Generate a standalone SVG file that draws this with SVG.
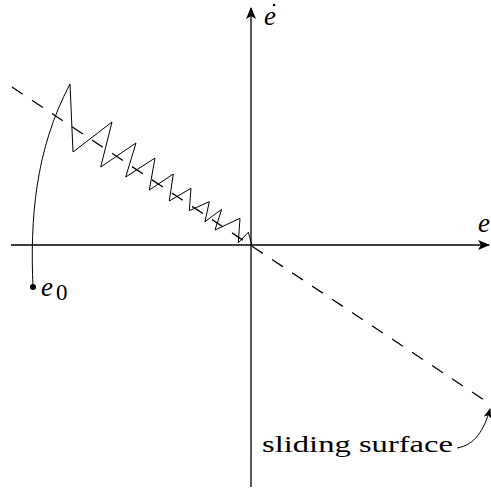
<svg xmlns="http://www.w3.org/2000/svg" width="491" height="489" viewBox="0 0 491 489">
<style>
.ln{fill:none;stroke:#000;stroke-width:1.3}
.th{fill:none;stroke:#000;stroke-width:1}
.lbl{font-family:"Liberation Serif","Times New Roman",Times,serif;font-size:23px;fill:#000}
.it{font-style:italic;font-size:27px}
</style>
<defs>
<marker id="ah" markerWidth="12" markerHeight="10" refX="11" refY="5" orient="auto" markerUnits="userSpaceOnUse">
<path d="M0,0 L12,5 L0,10 L3,5 Z" fill="#000"/>
</marker>
<marker id="ah2" markerWidth="10" markerHeight="8" refX="9" refY="4" orient="auto" markerUnits="userSpaceOnUse">
<path d="M0,0 L10,4 L0,8 L2.5,4 Z" fill="#000"/>
</marker>
</defs>
<rect width="491" height="489" fill="#fff"/>
<g id="connectors">
<line class="ln" x1="11" y1="245" x2="489" y2="245" marker-end="url(#ah)"/>
<line class="ln" x1="251" y1="487" x2="251" y2="8" marker-end="url(#ah)"/>
<line class="ln" x1="12" y1="87" x2="490" y2="404" stroke-dasharray="13,11"/>
<path class="th" d="M33,287 C30,220 35,150 70,84"/>
<polyline class="th" points="70,84 73,152 112,122 100.7,167 136,143 125.7,177 155,158 149.3,190 173.3,174 169.3,201 191,188.3 189.3,210.7 209.3,201.7 205,221.7 221.7,209.3 215,230 240,218.3 238.3,242.7 248.3,232.3 251.7,244"/>
<path class="th" d="M457,448 C475,445 484,430 490,409" marker-end="url(#ah2)"/>
</g>
<g id="e0">
<circle cx="33" cy="287" r="3"/>
<text class="lbl it" x="41" y="296">e</text>
<text class="lbl" x="56" y="300" font-size="17">0</text>
</g>
<g id="edot">
<text class="lbl it" x="264" y="25">e</text>
<circle cx="274" cy="5" r="1.3"/>
</g>
<g id="e">
<text class="lbl it" x="478" y="232">e</text>
</g>
<g id="sliding">
<text class="lbl" x="262" y="452" textLength="191" lengthAdjust="spacingAndGlyphs">sliding surface</text>
</g>
</svg>
